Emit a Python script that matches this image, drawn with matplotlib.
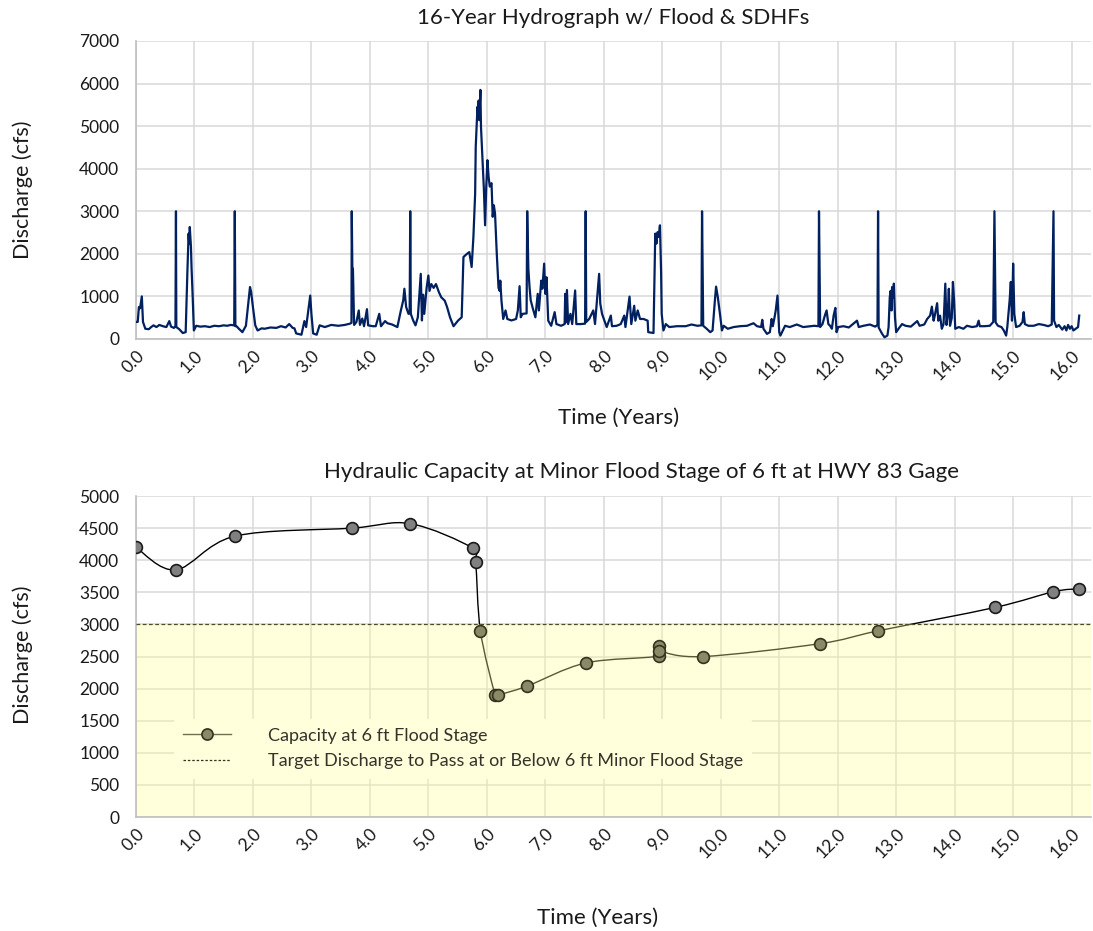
import matplotlib
matplotlib.use("Agg")
import matplotlib.pyplot as plt
import numpy as np
from matplotlib.lines import Line2D
from matplotlib.path import Path
from matplotlib.patches import PathPatch

plt.rcParams["font.family"] = ["Lato", "DejaVu Sans"]

# --------------------------------------------------
# Data : hydrograph
# --------------------------------------------------
hydro_years = [
    0.00, 0.03, 0.05, 0.07, 0.10, 0.12, 0.16, 0.22, 0.26, 0.30, 0.35, 0.40, 0.46, 0.52, 0.57, 0.60,
    0.65, 0.675, 0.684, 0.69, 0.74, 0.80, 0.85, 0.88, 0.90, 0.91, 0.92, 0.94, 0.95, 0.97, 0.99, 1.03,
    1.10, 1.18, 1.26, 1.34, 1.42, 1.50, 1.56, 1.62, 1.68, 1.69, 1.70, 1.72, 1.76, 1.82, 1.88, 1.92,
    1.95, 1.97, 1.98, 2.00, 2.04, 2.08, 2.15, 2.20, 2.30, 2.40, 2.48, 2.56, 2.62, 2.68, 2.71, 2.74,
    2.83, 2.88, 2.91, 2.94, 2.98, 3.00, 3.03, 3.09, 3.14, 3.23, 3.34, 3.46, 3.57, 3.66, 3.685, 3.69,
    3.70, 3.71, 3.73, 3.77, 3.81, 3.83, 3.87, 3.90, 3.95, 3.97, 4.05, 4.10, 4.16, 4.19, 4.26, 4.30,
    4.38, 4.47, 4.53, 4.57, 4.59, 4.62, 4.66, 4.68, 4.69, 4.70, 4.74, 4.78, 4.82, 4.87, 4.89, 4.91,
    4.93, 4.97, 5.00, 5.02, 5.05, 5.09, 5.13, 5.18, 5.22, 5.28, 5.32, 5.37, 5.43, 5.51, 5.57, 5.60,
    5.66, 5.70, 5.74, 5.77, 5.80, 5.81, 5.84, 5.85, 5.86, 5.87, 5.89, 5.90, 5.93, 5.95, 5.97, 5.99,
    6.01, 6.03, 6.05, 6.08, 6.10, 6.12, 6.14, 6.17, 6.20, 6.22, 6.23, 6.25, 6.28, 6.32, 6.35, 6.42,
    6.50, 6.53, 6.56, 6.58, 6.61, 6.68, 6.69, 6.71, 6.73, 6.75, 6.78, 6.83, 6.87, 6.89, 6.93, 6.95,
    6.98, 7.00, 7.02, 7.05, 7.10, 7.16, 7.19, 7.27, 7.33, 7.34, 7.35, 7.37, 7.39, 7.43, 7.46, 7.51,
    7.53, 7.60, 7.68, 7.69, 7.70, 7.75, 7.82, 7.85, 7.92, 7.94, 7.97, 8.00, 8.05, 8.12, 8.14, 8.22,
    8.29, 8.35, 8.37, 8.44, 8.47, 8.52, 8.54, 8.58, 8.62, 8.68, 8.75, 8.76, 8.85, 8.88, 8.90, 8.92,
    8.94, 8.96, 8.98, 8.99, 9.02, 9.06, 9.12, 9.25, 9.40, 9.50, 9.60, 9.67, 9.68, 9.70, 9.76, 9.82,
    9.86, 9.90, 9.92, 9.95, 9.99, 10.02, 10.05, 10.12, 10.22, 10.33, 10.45, 10.56, 10.62, 10.69, 10.71, 10.73,
    10.79, 10.84, 10.87, 10.89, 10.92, 10.94, 10.97, 11.00, 11.02, 11.10, 11.18, 11.30, 11.41, 11.53, 11.60, 11.67,
    11.68, 11.70, 11.74, 11.78, 11.81, 11.84, 11.87, 11.90, 11.93, 11.96, 11.98, 12.01, 12.10, 12.19, 12.33, 12.36,
    12.44, 12.55, 12.64, 12.68, 12.69, 12.70, 12.76, 12.80, 12.85, 12.87, 12.89, 12.905, 12.92, 12.93, 12.95, 12.96,
    12.98, 13.00, 13.04, 13.10, 13.16, 13.25, 13.36, 13.40, 13.48, 13.53, 13.58, 13.61, 13.64, 13.66, 13.70, 13.72,
    13.75, 13.78, 13.81, 13.84, 13.86, 13.88, 13.90, 13.92, 13.95, 13.97, 13.99, 14.01, 14.07, 14.15, 14.21, 14.30,
    14.38, 14.41, 14.43, 14.51, 14.60, 14.66, 14.68, 14.70, 14.74, 14.80, 14.84, 14.88, 14.90, 14.94, 14.96, 14.98,
    15.00, 15.02, 15.05, 15.11, 15.16, 15.18, 15.20, 15.26, 15.35, 15.44, 15.52, 15.60, 15.66, 15.69, 15.70, 15.74,
    15.78, 15.84, 15.88, 15.91, 15.94, 15.97, 16.00, 16.03, 16.07, 16.11, 16.13,
]
hydro_cfs = [
    400, 400, 750, 720, 1000, 400, 240, 230, 280, 320, 280, 330, 300, 280, 420, 290,
    260, 300, 3000, 280, 230, 140, 160, 1610, 2475, 2245, 2630, 2170, 1690, 985, 200, 310,
    290, 300, 280, 310, 300, 320, 310, 330, 320, 3000, 300, 300, 240, 160, 310, 830,
    1220, 1100, 985, 750, 320, 200, 250, 240, 270, 260, 300, 270, 350, 260, 250, 130,
    100, 420, 280, 590, 1020, 590, 130, 100, 320, 280, 330, 310, 330, 360, 380, 3000,
    1690, 1650, 330, 400, 670, 330, 480, 300, 700, 320, 300, 300, 590, 300, 420, 370,
    340, 280, 670, 905, 1180, 750, 590, 600, 3000, 590, 435, 320, 510, 1530, 435, 1040,
    590, 1200, 1490, 1130, 1290, 1200, 1290, 1100, 980, 900, 750, 510, 300, 435, 510, 1925,
    2000, 2040, 1690, 2390, 3415, 4515, 5455, 5300, 5600, 5140, 5850, 4980, 4120, 3500, 2670, 3580,
    4200, 3810, 3580, 3660, 2870, 3140, 2950, 2000, 1200, 1130, 1370, 900, 470, 670, 470, 435,
    470, 670, 1240, 510, 590, 600, 3000, 1650, 1220, 910, 750, 510, 1060, 670, 1370, 1180,
    1770, 1060, 1450, 430, 310, 630, 350, 310, 350, 1060, 390, 1150, 350, 590, 350, 1140,
    350, 350, 360, 3000, 400, 470, 670, 350, 1530, 830, 590, 470, 280, 550, 300, 310,
    350, 550, 280, 995, 350, 780, 430, 670, 470, 470, 430, 160, 140, 2475, 2240, 2510,
    2400, 2670, 1570, 590, 200, 350, 280, 300, 300, 340, 310, 320, 3000, 310, 240, 160,
    200, 910, 1230, 980, 550, 200, 310, 240, 280, 300, 310, 370, 300, 280, 450, 240,
    120, 160, 470, 300, 510, 670, 1020, 160, 80, 310, 280, 340, 280, 300, 310, 300,
    3000, 280, 350, 550, 670, 350, 310, 240, 550, 730, 160, 280, 300, 270, 430, 280,
    310, 340, 290, 330, 3000, 270, 120, 40, 80, 280, 980, 1130, 670, 1220, 980, 1300,
    500, 160, 240, 350, 310, 290, 420, 310, 340, 470, 550, 760, 430, 550, 840, 430,
    550, 240, 350, 1300, 330, 550, 1180, 310, 490, 1340, 910, 240, 280, 240, 310, 280,
    300, 430, 300, 300, 310, 400, 3000, 390, 310, 280, 200, 80, 280, 910, 1340, 430,
    1770, 590, 280, 310, 400, 630, 350, 310, 310, 350, 330, 300, 340, 3000, 430, 280,
    330, 220, 300, 200, 330, 240, 300, 200, 240, 280, 550,
]

# --------------------------------------------------
# Data : hydraulic capacity at 6 ft flood stage
# --------------------------------------------------
capacity_years = [0.0, 0.68, 1.69, 3.69, 4.69, 5.76, 5.81, 5.89, 6.14, 6.19, 6.69, 7.69,
                  8.95, 8.95, 8.95, 9.69, 11.69, 12.69, 14.69, 15.69, 16.12]
capacity_cfs = [4200, 3850, 4375, 4500, 4570, 4190, 3970, 2900, 1905, 1900, 2040, 2400,
                2510, 2670, 2590, 2500, 2700, 2900, 3265, 3510, 3555]
target_cfs = 3000

x_ticks = np.arange(0, 17, 1.0)
x_tick_labels = [f"{v:.1f}" for v in x_ticks]

TITLE_TOP = "16-Year Hydrograph w/ Flood & SDHFs"
TITLE_BOTTOM = "Hydraulic Capacity at Minor Flood Stage of 6 ft at HWY 83 Gage"
LEGEND_CAPACITY = "Capacity at 6 ft Flood Stage"
LEGEND_TARGET = "Target Discharge to Pass at or Below 6 ft Minor Flood Stage"

GRID_COLOR = "#d9d9d9"
AXIS_COLOR = "#bfbfbf"
TEXT_COLOR = "#1a1a1a"
TICK_SIZE = 12.5


def style_axes(ax, ymax, ystep):
    """Style Excel : grille grise, pas de graduations, axes gauche/bas."""
    ax.set_xlim(0, 16.33)
    ax.set_ylim(0, ymax)
    ax.set_xticks(x_ticks)
    ax.set_xticklabels(x_tick_labels, rotation=45, ha="right", va="top",
                       rotation_mode="anchor", fontsize=TICK_SIZE, color=TEXT_COLOR)
    ax.set_yticks(np.arange(0, ymax + 1, ystep))
    ax.tick_params(axis="y", labelsize=TICK_SIZE, labelcolor=TEXT_COLOR, length=0, pad=12)
    ax.tick_params(axis="x", length=0, pad=6)
    ax.grid(True, color=GRID_COLOR, linewidth=1.1)
    ax.set_axisbelow(True)
    for side in ("top", "right"):
        ax.spines[side].set_visible(False)
    for side in ("left", "bottom"):
        ax.spines[side].set_color(AXIS_COLOR)
        ax.spines[side].set_linewidth(1.2)


def set_labels(ax, x_pos, y_pos):
    """Titres d'axes centrés sur des positions fixes (coordonnées axes)."""
    ax.set_ylabel("Discharge (cfs)", fontsize=15.5, color=TEXT_COLOR, va="center")
    ax.yaxis.set_label_coords(-0.119, y_pos)
    ax.set_xlabel("Time (Years)", fontsize=16, color=TEXT_COLOR, va="center")
    ax.xaxis.set_label_coords(x_pos[0], x_pos[1])


def smooth_path(xs, ys):
    """Courbe lissée façon Excel (segments de Bézier passant par les points)."""
    pts = np.column_stack([xs, ys]).astype(float)
    n = len(pts)
    verts = [pts[0]]
    codes = [Path.MOVETO]
    for i in range(n - 1):
        p0 = pts[max(i - 1, 0)]
        p1 = pts[i]
        p2 = pts[i + 1]
        p3 = pts[min(i + 2, n - 1)]
        verts += [p1 + (p2 - p0) / 6.0, p2 - (p3 - p1) / 6.0, p2]
        codes += [Path.CURVE4] * 3
    return Path(verts, codes)


fig = plt.figure(figsize=(10.93, 9.31), dpi=100)

# --------------------------------------------------
# Figure 1 : hydrogramme
# --------------------------------------------------
ax1 = fig.add_axes([0.1244, 0.6359, 0.8737, 0.3201])
style_axes(ax1, 7000, 1000)
ax1.plot(hydro_years, hydro_cfs, color="#002060", linewidth=1.6, zorder=3)
ax1.text(0.5, 1.077, TITLE_TOP, transform=ax1.transAxes, ha="center", va="center",
         fontsize=16, color=TEXT_COLOR)
set_labels(ax1, (0.505, -0.265), 0.5)

# --------------------------------------------------
# Figure 2 : capacité hydraulique
# --------------------------------------------------
ax2 = fig.add_axes([0.1244, 0.1224, 0.8737, 0.3448])
style_axes(ax2, 5000, 500)

cap_x = np.array(capacity_years)
cap_y = np.array(capacity_cfs)
ax2.add_patch(PathPatch(smooth_path(cap_x, cap_y), facecolor="none",
                        edgecolor="black", linewidth=1.0, zorder=2))

# zone cible (sous 3000 cfs), dessinée par-dessus la courbe
ax2.axhspan(0, target_cfs, color="#ffff99", alpha=0.35, linewidth=0, zorder=2.5)
ax2.axhline(target_cfs, color="#4a4a30", linewidth=0.9, linestyle=(0, (3, 2)), zorder=3)

above = cap_y >= target_cfs
ax2.scatter(cap_x[above], cap_y[above], s=72, facecolor="#808080",
            edgecolor="#1a1a1a", linewidth=1.2, zorder=4)
ax2.scatter(cap_x[~above], cap_y[~above], s=72, facecolor="#8a8a66",
            edgecolor="#33331f", linewidth=1.2, zorder=4)

ax2.text(0.529, 1.075, TITLE_BOTTOM, transform=ax2.transAxes, ha="center", va="center",
         fontsize=16, color=TEXT_COLOR)
set_labels(ax2, (0.483, -0.315), 0.505)

handles = [
    Line2D([], [], color="#6e6e52", linewidth=1.0, marker="o", markersize=8,
           markerfacecolor="#8a8a66", markeredgecolor="#33331f", markeredgewidth=1.2),
    Line2D([], [], color="#33331f", linewidth=0.9, linestyle=(0, (2, 1.5))),
]
leg = ax2.legend(handles, [LEGEND_CAPACITY, LEGEND_TARGET], loc="upper left",
                 bbox_to_anchor=(0.03, 0.335), fontsize=13, frameon=True,
                 facecolor="#ffffdb", edgecolor="none", framealpha=1.0,
                 handlelength=2.7, handletextpad=2.0, labelspacing=0.55, borderpad=0.5)
leg.set_zorder(5)
for txt in leg.get_texts():
    txt.set_color("#33332a")

fig.savefig("out.png", dpi=100)
